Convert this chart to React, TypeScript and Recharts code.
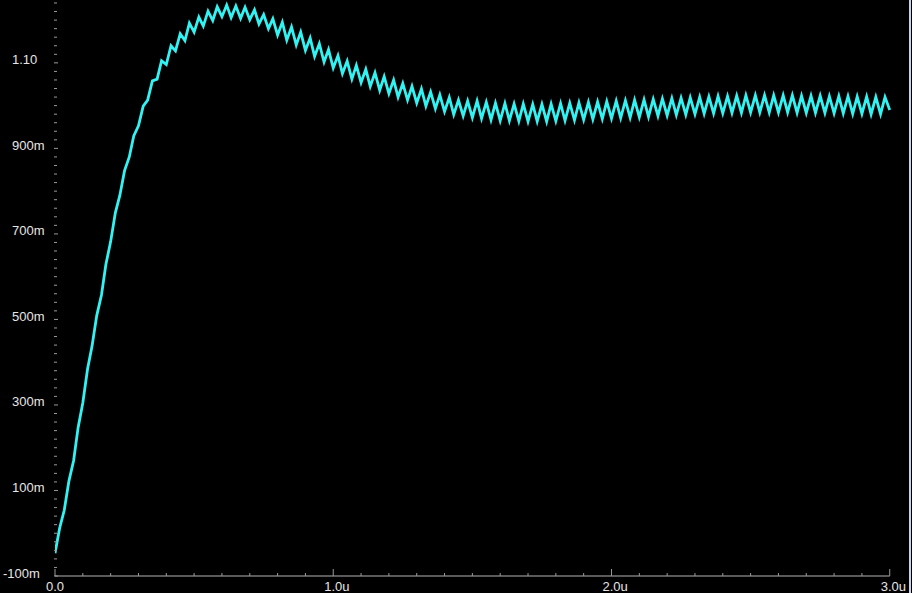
import React from "react";
import { LineChart, Line, XAxis, YAxis, ReferenceLine } from "recharts";

// sample times (ns), one per half ripple period
const timeNs = [
  0, 17, 33, 50, 67, 83, 100, 117, 133, 150, 167, 183,
  200, 217, 233, 250, 267, 283, 300, 317, 333, 350, 367, 383,
  400, 417, 433, 450, 467, 483, 500, 517, 533, 550, 567, 583,
  600, 617, 633, 650, 667, 683, 700, 717, 733, 750, 767, 783,
  800, 817, 833, 850, 867, 883, 900, 917, 933, 950, 967, 983,
  1000, 1017, 1033, 1050, 1067, 1083, 1100, 1117, 1133, 1150, 1167, 1183,
  1200, 1217, 1233, 1250, 1267, 1283, 1300, 1317, 1333, 1350, 1367, 1383,
  1400, 1417, 1433, 1450, 1467, 1483, 1500, 1517, 1533, 1550, 1567, 1583,
  1600, 1617, 1633, 1650, 1667, 1683, 1700, 1717, 1733, 1750, 1767, 1783,
  1800, 1817, 1833, 1850, 1867, 1883, 1900, 1917, 1933, 1950, 1967, 1983,
  2000, 2017, 2033, 2050, 2067, 2083, 2100, 2117, 2133, 2150, 2167, 2183,
  2200, 2217, 2233, 2250, 2267, 2283, 2300, 2317, 2333, 2350, 2367, 2383,
  2400, 2417, 2433, 2450, 2467, 2483, 2500, 2517, 2533, 2550, 2567, 2583,
  2600, 2617, 2633, 2650, 2667, 2683, 2700, 2717, 2733, 2750, 2767, 2783,
  2800, 2817, 2833, 2850, 2867, 2883, 2900, 2917, 2933, 2950, 2967, 2983,
  3000,
];

// output voltage (V)
const voltage = [
  -0.047, 0.013, 0.053, 0.122, 0.17, 0.247, 0.305, 0.384, 0.437, 0.509, 0.557, 0.629,
  0.682, 0.75, 0.79, 0.848, 0.88, 0.929, 0.953, 0.999, 1.013, 1.058, 1.062, 1.105,
  1.096, 1.14, 1.128, 1.168, 1.152, 1.193, 1.172, 1.207, 1.186, 1.221, 1.199, 1.231,
  1.208, 1.235, 1.206, 1.233, 1.204, 1.23, 1.201, 1.224, 1.191, 1.213, 1.18, 1.203,
  1.165, 1.195, 1.153, 1.184, 1.142, 1.172, 1.129, 1.158, 1.115, 1.145, 1.102, 1.131,
  1.088, 1.117, 1.075, 1.104, 1.062, 1.094, 1.054, 1.085, 1.045, 1.077, 1.036, 1.068,
  1.028, 1.06, 1.02, 1.052, 1.013, 1.045, 1.006, 1.039, 0.999, 1.032, 0.993, 1.025,
  0.986, 1.019, 0.979, 1.013, 0.976, 1.011, 0.972, 1.011, 0.97, 1.008, 0.967, 1.006,
  0.965, 1.005, 0.965, 1.004, 0.964, 1.004, 0.963, 1.003, 0.963, 1.003, 0.963, 1.004,
  0.964, 1.005, 0.965, 1.006, 0.966, 1.007, 0.967, 1.008, 0.968, 1.009, 0.969, 1.01,
  0.97, 1.011, 0.971, 1.012, 0.972, 1.013, 0.973, 1.014, 0.974, 1.015, 0.976, 1.016,
  0.977, 1.017, 0.978, 1.018, 0.979, 1.019, 0.98, 1.02, 0.981, 1.021, 0.982, 1.022,
  0.982, 1.022, 0.983, 1.023, 0.983, 1.024, 0.984, 1.024, 0.984, 1.024, 0.984, 1.024,
  0.984, 1.024, 0.984, 1.024, 0.983, 1.023, 0.983, 1.023, 0.983, 1.023, 0.983, 1.022,
  0.982, 1.022, 0.982, 1.022, 0.981, 1.021, 0.981, 1.021, 0.98, 1.02, 0.98, 1.02,
  0.99,
];

const xTickValues = [0, 1, 2, 3];
const xTickLabels = ["0.0", "1.0u", "2.0u", "3.0u"];
const yTickValues = [-0.1, 0.1, 0.3, 0.5, 0.7, 0.9, 1.1];
const yTickLabels = ["-100m", "100m", "300m", "500m", "700m", "900m", "1.10"];

const W = 912;
const H = 593;
const PLOT_LEFT = 55;
const AXIS_Y = 576;
const FONT = "'Liberation Sans', Arial, sans-serif";

const data = timeNs.map((ns, i) => ({ t: ns / 1000, v: voltage[i] }));

// minor ticks: 20m on y, 0.1u on x
const yMinor: number[] = [];
for (let i = 0; i <= 67; i++) yMinor.push(Math.round((-0.1 + i * 0.02) * 1000) / 1000);
const xMinor: number[] = [];
for (let i = 0; i <= 30; i++) xMinor.push(Math.round(i * 0.1 * 10) / 10);

const findLabel = (vals: number[], labels: string[], v: number) => {
  const idx = vals.findIndex((m) => Math.abs(m - v) < 1e-6);
  return idx >= 0 ? labels[idx] : null;
};

const YTick = (props: any) => {
  const { y, payload } = props;
  const label = findLabel(yTickValues, yTickLabels, payload.value);
  return (
    <g>
      <line x1={PLOT_LEFT - 1} x2={label ? PLOT_LEFT + 3 : PLOT_LEFT + 2} y1={y} y2={y} stroke="#9a9a9a" strokeWidth={1} />
      {label && (
        <text
          x={label.startsWith("-") ? 3 : 12}
          y={y - 3}
          dominantBaseline="central"
          fontFamily={FONT}
          fontSize={13}
          fill="#e6e6e6"
        >
          {label}
        </text>
      )}
    </g>
  );
};

const XTick = (props: any) => {
  const { x, payload } = props;
  const label = findLabel(xTickValues, xTickLabels, payload.value);
  return (
    <g>
      <line x1={x} x2={x} y1={AXIS_Y} y2={label ? AXIS_Y - 7 : AXIS_Y - 3} stroke="#9a9a9a" strokeWidth={1} />
      {label && (
        <text
          x={x - 9}
          y={AXIS_Y + 10}
          dominantBaseline="central"
          fontFamily={FONT}
          fontSize={13}
          fill="#e6e6e6"
        >
          {label}
        </text>
      )}
    </g>
  );
};

export default function App() {
  return (
    <div style={{ position: "relative", width: W, height: H, background: "#000", overflow: "hidden" }}>
      <style>{"body{margin:0;background:#000;}"}</style>
      <LineChart width={W} height={H} data={data} margin={{ top: 0, right: 0, bottom: 0, left: 0 }}>
        <XAxis
          dataKey="t"
          type="number"
          domain={[0, 3.08]}
          allowDataOverflow
          ticks={xMinor}
          interval={0}
          height={17}
          axisLine={false}
          tickLine={false}
          tickSize={0}
          tick={<XTick />}
        />
        <YAxis
          type="number"
          domain={[-0.1, 1.247]}
          allowDataOverflow
          ticks={yMinor}
          interval={0}
          width={55}
          axisLine={false}
          tickLine={false}
          tickSize={0}
          tick={<YTick />}
        />
        <ReferenceLine
          segment={[
            { x: 0, y: -0.1 },
            { x: 3, y: -0.1 },
          ]}
          stroke="#b4b4b4"
          strokeWidth={1}
          ifOverflow="visible"
        />
        <Line
          type="linear"
          dataKey="v"
          stroke="#33f2f2"
          strokeWidth={2.8}
          dot={false}
          isAnimationActive={false}
        />
      </LineChart>
      <div style={{ position: "absolute", left: 909, top: 0, width: 2, height: H, background: "#c4d2ee" }} />
    </div>
  );
}
